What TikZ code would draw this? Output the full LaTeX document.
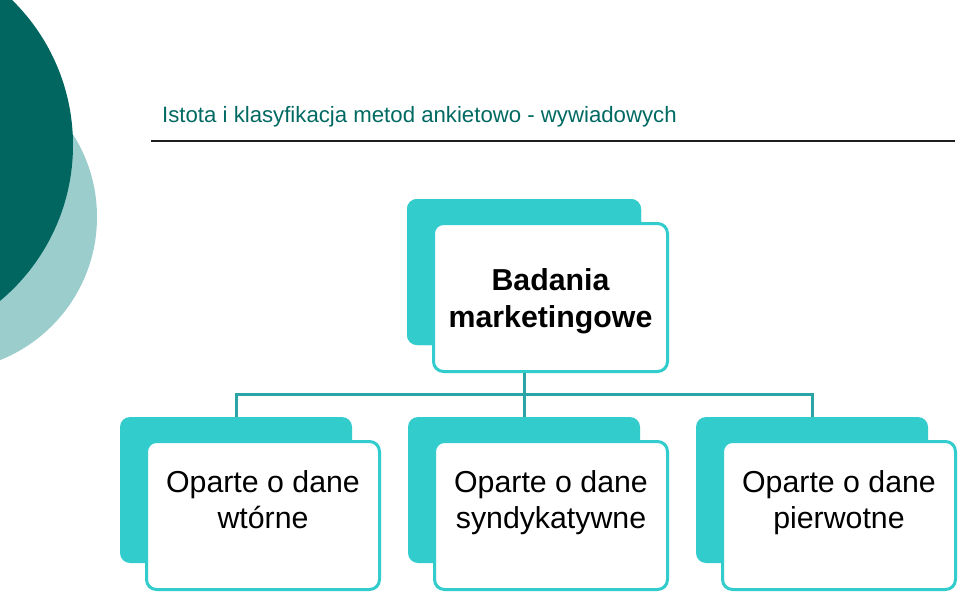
\documentclass[tikz,border=0pt]{standalone}
\usepackage{fontspec}
\setmainfont{Liberation Sans}
\definecolor{darkteal}{HTML}{00665F}
\definecolor{lightteal}{HTML}{9BCDCD}
\definecolor{boxteal}{HTML}{33CCCC}
\definecolor{lineteal}{HTML}{2AA4A4}
\definecolor{titleteal}{HTML}{006A62}
\tikzset{
  backbox/.style={fill=boxteal, rounded corners=10pt, minimum width=232pt, minimum height=146pt, inner sep=0pt},
  frontbox/.style={fill=white, draw=boxteal, line width=3pt, rounded corners=10pt, minimum width=233pt, minimum height=148pt, inner sep=0pt},
  conn/.style={draw=lineteal, line width=3pt},
  boxtext/.style={anchor=base, inner sep=0pt, font=\fontsize{30.3}{36}\selectfont},
}
\begin{document}
\begin{tikzpicture}[x=1pt,y=-1pt]
\clip (0,0) rectangle (960,596);
\fill[white] (0,0) rectangle (960,596);
% decorative circles
\fill[lightteal] (-57,217) circle[radius=154pt];
\fill[darkteal] (-130,145) circle[radius=203pt];
% title
\node[anchor=base west, inner sep=0pt, text=titleteal, font=\fontsize{22.2}{27}\selectfont] (title) at (162,123) {Istota i klasyfikacja metod ankietowo - wywiadowych};
\draw[line width=2pt, color=black!88] (151,141) -- (955,141);
% back boxes
\node[backbox, minimum width=234pt] (topback) at (524,272) {};
\node[backbox] (lback) at (236,490) {};
\node[backbox] (mback) at (524,490) {};
\node[backbox] (rback) at (812,490) {};
% connectors
\draw[conn] (topback.south) -- ++(0,49) -| (lback.north);
\draw[conn] (topback.south) -- ++(0,49) -| (mback.north);
\draw[conn] (topback.south) -- ++(0,49) -| (rback.north);
% redraw top back box over connector start
\node[backbox, minimum width=234pt] at (524,272) {};
% front boxes
\node[frontbox, minimum width=234pt] (topfront) at (550.5,297.5) {};
\node[frontbox] (lfront) at (263,515.5) {};
\node[frontbox] (mfront) at (551,515.5) {};
\node[frontbox] (rfront) at (839,515.5) {};
% texts
\node[boxtext, font=\fontsize{30.3}{37}\selectfont\bfseries] (ttext) at (550.5,290) {\begin{tabular}[t]{@{}c@{}}Badania\\marketingowe\end{tabular}};
\node[boxtext] (ltext) at (263,492) {\begin{tabular}[t]{@{}c@{}}Oparte o dane\\wtórne\end{tabular}};
\node[boxtext] (mtext) at (551,492) {\begin{tabular}[t]{@{}c@{}}Oparte o dane\\syndykatywne\end{tabular}};
\node[boxtext] (rtext) at (839,492) {\begin{tabular}[t]{@{}c@{}}Oparte o dane\\pierwotne\end{tabular}};
\end{tikzpicture}
\end{document}
